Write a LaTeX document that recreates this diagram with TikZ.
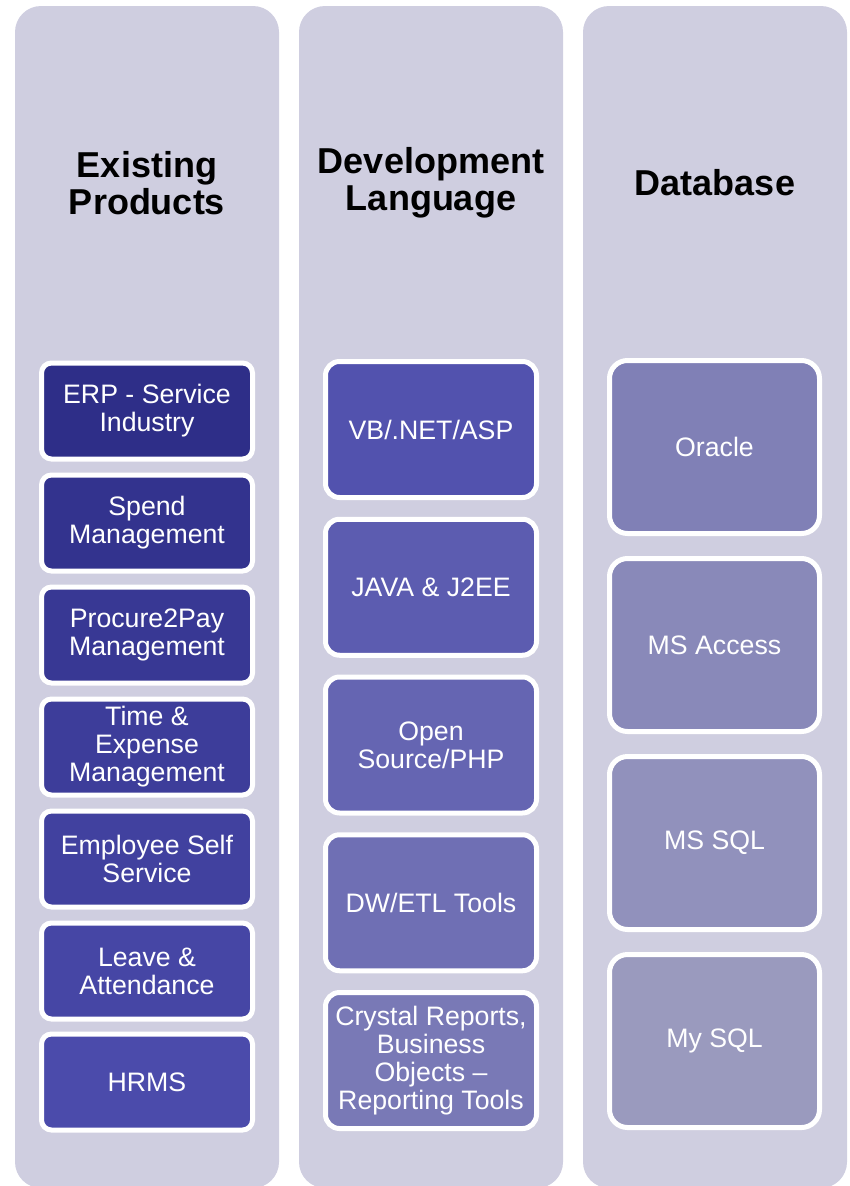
\documentclass[tikz,border=0pt]{standalone}
\usepackage{fontspec}
\setmainfont{Liberation Sans}
\definecolor{colbg}{RGB}{207,206,224}
\definecolor{eA}{RGB}{46,46,136}
\definecolor{eB}{RGB}{51,51,142}
\definecolor{eC}{RGB}{56,56,148}
\definecolor{eD}{RGB}{61,61,154}
\definecolor{eE}{RGB}{65,65,159}
\definecolor{eF}{RGB}{70,70,165}
\definecolor{eG}{RGB}{75,75,171}
\definecolor{dA}{RGB}{82,82,174}
\definecolor{dB}{RGB}{92,92,176}
\definecolor{dC}{RGB}{101,101,178}
\definecolor{dD}{RGB}{111,111,180}
\definecolor{dE}{RGB}{121,121,182}
\definecolor{bA}{RGB}{128,128,182}
\definecolor{bB}{RGB}{137,137,185}
\definecolor{bC}{RGB}{145,145,188}
\definecolor{bD}{RGB}{154,154,190}
\tikzset{
  column/.style={fill=colbg, rounded corners=26pt, minimum width=264pt, minimum height=1182pt, inner sep=0pt},
  title/.style={font=\fontsize{36}{37.5}\selectfont\bfseries, text=black, align=center},
  item/.style={draw=white, line width=5pt, text=white, align=center, inner sep=0pt,
     font=\fontsize{26.7}{28}\selectfont},
  itemA/.style={item, rounded corners=10pt, minimum width=211pt, minimum height=96pt},
  itemB/.style={item, rounded corners=14pt, minimum width=211pt, minimum height=136pt},
  itemC/.style={item, rounded corners=18pt, minimum width=210pt, minimum height=173pt},
}
\begin{document}
\begin{tikzpicture}[x=1pt,y=-1pt]
\useasboundingbox (0,0) rectangle (850,1186);
% columns
\node[column] (c1) at (147,597) {};
\node[column] (c2) at (431,597) {};
\node[column] (c3) at (715,597) {};
% titles
\node[title] (t1) at (147,183) {Existing\\Products};
\node[title] (t2) at (431,183) {Development\\Language};
\node[title] (t3) at (715,183) {Database};
% column 1
\node[itemA, fill=eA] (e1) at (147,411) {ERP - Service\\Industry};
\node[itemA, fill=eB] (e2) at (147,523) {Spend\\Management};
\node[itemA, fill=eC] (e3) at (147,635) {Procure2Pay\\Management};
\node[itemA, fill=eD] (e4) at (147,747) {Time \&\\Expense\\Management};
\node[itemA, fill=eE] (e5) at (147,859) {Employee Self\\Service};
\node[itemA, fill=eF] (e6) at (147,971) {Leave \&\\Attendance};
\node[itemA, fill=eG] (e7) at (147,1082) {HRMS};
% column 2
\node[itemB, fill=dA] (d1) at (431,429.5) {VB/.NET/ASP};
\node[itemB, fill=dB] (d2) at (431,587.25) {JAVA \& J2EE};
\node[itemB, fill=dC] (d3) at (431,745) {Open\\Source/PHP};
\node[itemB, fill=dD] (d4) at (431,902.75) {DW/ETL Tools};
\node[itemB, fill=dE] (d5) at (431,1060.5) {Crystal Reports,\\Business\\Objects --\\Reporting Tools};
% column 3
\node[itemC, fill=bA] (b1) at (714.5,447) {Oracle};
\node[itemC, fill=bB] (b2) at (714.5,645) {MS Access};
\node[itemC, fill=bC] (b3) at (714.5,843) {MS SQL};
\node[itemC, fill=bD] (b4) at (714.5,1041) {My SQL};
\end{tikzpicture}
\end{document}
